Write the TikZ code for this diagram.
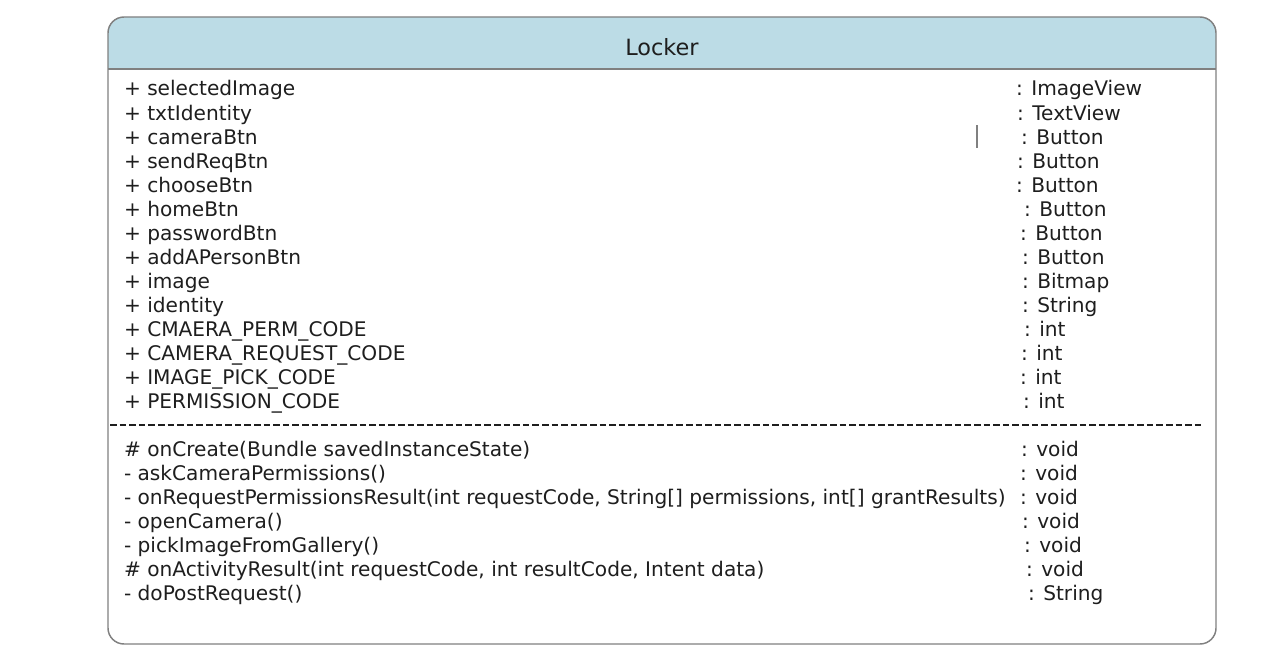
\documentclass[tikz,border=0pt]{standalone}
\usepackage{fontspec}
\setmainfont{DejaVu Sans}
\definecolor{headfill}{RGB}{188,220,230}
\definecolor{bordergray}{RGB}{128,128,128}
\definecolor{txt}{RGB}{30,30,30}
\tikzset{
  lbl/.style={anchor=base west, inner sep=0pt, outer sep=0pt, text=txt, font=\fontsize{15.1pt}{18pt}\selectfont},
  ttl/.style={anchor=base, inner sep=0pt, text=txt, font=\fontsize{16.8pt}{20pt}\selectfont},
}
\begin{document}
\begin{tikzpicture}[x=0.75pt,y=-0.75pt]
\useasboundingbox (0,0) rectangle (1278,660);
% header fill
\begin{scope}
\clip (0,0) rectangle (1278,69);
\fill[headfill, rounded corners=12pt] (108,17) rectangle (1216,644);
\end{scope}
% outer box
\draw[bordergray, line width=1.1pt, rounded corners=12pt] (108,17) rectangle (1216,644);
\draw[bordergray, line width=1.5pt] (108,69) -- (1216,69);
% title
\node[ttl] (title) at (662,56) {Locker};
% attributes
\foreach \n/\t/\tx [count=\i from 0] in {
  selectedImage/ImageView/1016,
  txtIdentity/TextView/1017,
  cameraBtn/Button/1021,
  sendReqBtn/Button/1017,
  chooseBtn/Button/1016,
  homeBtn/Button/1024,
  passwordBtn/Button/1020,
  addAPersonBtn/Button/1022,
  image/Bitmap/1022,
  identity/String/1022,
  CMAERA\_PERM\_CODE/int/1024,
  CAMERA\_REQUEST\_CODE/int/1021,
  IMAGE\_PICK\_CODE/int/1020,
  PERMISSION\_CODE/int/1023}{
  \node[lbl] (attr\i) at (124,{96+24*\i}) {+ \n};
  \node[lbl] (atype\i) at (\tx,{96+24*\i}) {: \t};
}
% cursor mark
\coordinate (cur1) at (977,125);
\coordinate (cur2) at (977,148);
\draw[bordergray, line width=0.9pt] (cur1) -- (cur2);
% separator
\coordinate (sepL) at (110,425);
\coordinate (sepR) at (1202,425);
\draw[txt, line width=0.8pt, dash pattern=on 5pt off 2.2pt] (sepL) -- (sepR);
% methods
\foreach \m/\t/\tx [count=\i from 0] in {
  {\# onCreate(Bundle savedInstanceState)}/void/1021,
  {- askCameraPermissions()}/void/1020,
  {- onRequestPermissionsResult(int requestCode, String[] permissions, int[] grantResults)}/void/1020,
  {- openCamera()}/void/1022,
  {- pickImageFromGallery()}/void/1024,
  {\# onActivityResult(int requestCode, int resultCode, Intent data)}/void/1026,
  {- doPostRequest()}/String/1028}{
  \node[lbl] (meth\i) at (124,{456+24*\i}) {\m};
  \node[lbl] (mtype\i) at (\tx,{456+24*\i}) {: \t};
}
\end{tikzpicture}
\end{document}
